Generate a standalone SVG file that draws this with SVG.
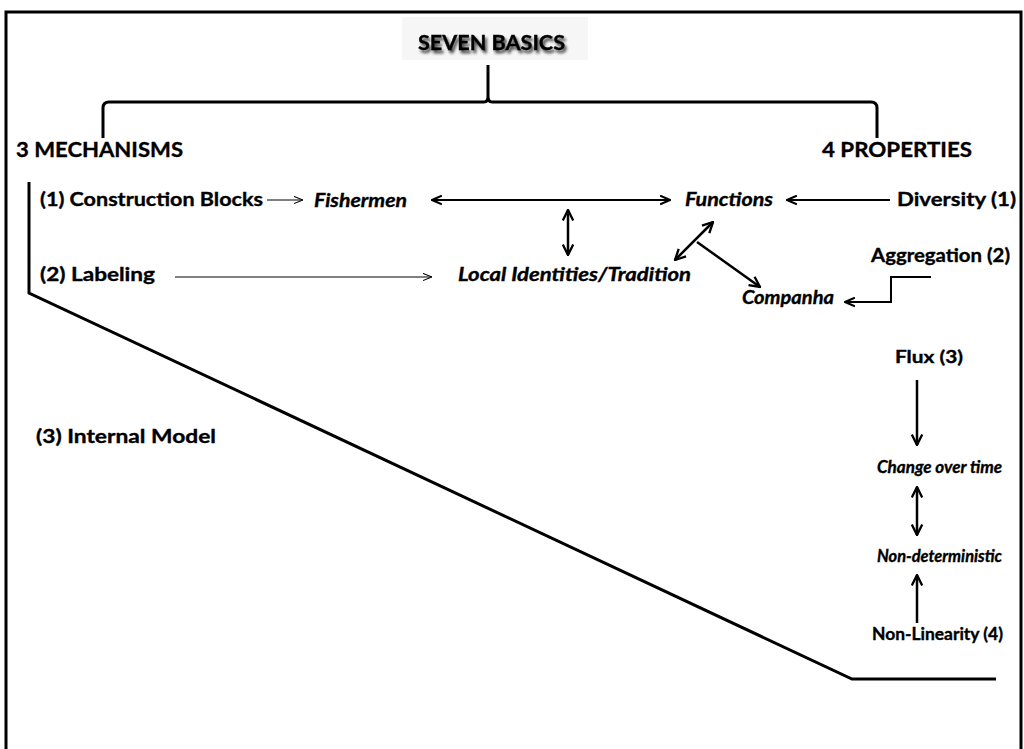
<svg xmlns="http://www.w3.org/2000/svg" width="1024" height="749" viewBox="0 0 1024 749">
<defs>
<style>
text{font-family:Lato,"Open Sans","Liberation Sans",sans-serif;font-weight:bold;fill:#000;stroke:#000;stroke-width:0.35}
.h{font-size:21px}
.t{font-size:19px}
.r{font-size:16.5px}
.i{font-style:italic}
.thin{stroke:#000;stroke-width:1;fill:none}
.med{stroke:#000;stroke-width:2;fill:none}
.bold{stroke:#000;stroke-width:2.5;fill:none}
.thick{stroke:#000;stroke-width:3;fill:none}
</style>
<marker id="open" viewBox="0 0 10 10" refX="10" refY="5" markerWidth="9" markerHeight="9" markerUnits="userSpaceOnUse" orient="auto-start-reverse"><path d="M0,1 L10,5 L0,9" fill="none" stroke="#000" stroke-width="1.2"/></marker>
<marker id="open2" viewBox="0 0 10 10" refX="9.5" refY="5" markerWidth="11" markerHeight="11" markerUnits="userSpaceOnUse" orient="auto-start-reverse"><path d="M0.5,1 L9.5,5 L0.5,9" fill="none" stroke="#000" stroke-width="1.8"/></marker>
<marker id="arr" viewBox="0 0 10 10" refX="9" refY="5" markerWidth="13" markerHeight="13" markerUnits="userSpaceOnUse" orient="auto-start-reverse"><path d="M1,1 L9,5 L1,9" fill="none" stroke="#000" stroke-width="1.8"/></marker>
<filter id="sh" x="-10%" y="-40%" width="130%" height="190%">
<feGaussianBlur in="SourceAlpha" stdDeviation="1.8" result="b"/>
<feOffset in="b" dx="2" dy="3" result="o"/>
<feComponentTransfer in="o" result="s"><feFuncA type="linear" slope="0.75"/></feComponentTransfer>
<feMerge><feMergeNode in="s"/><feMergeNode in="SourceGraphic"/></feMerge>
</filter>
</defs>
<rect width="1024" height="749" fill="#fff"/>
<path d="M6,760 L6,12 L1021,12 L1021,760" class="thick"/>
<g id="title">
<rect x="402" y="17" width="186" height="43" fill="#f6f6f6"/>
<text x="418" y="50" class="h" filter="url(#sh)" textLength="147" lengthAdjust="spacingAndGlyphs">SEVEN BASICS</text>
</g>
<g id="brace">
<path d="M488,65 L488,96 Q488,102 484,102 L109,102 Q103,102 103,108 L103,138 M488,96 Q488,102 492,102 L871,102 Q877,102 877,108 L877,138" class="thick"/>
</g>
<g id="mechanisms"><text x="16" y="157" class="h" textLength="167" lengthAdjust="spacingAndGlyphs">3 MECHANISMS</text></g>
<g id="properties"><text x="822" y="157" class="h" textLength="150" lengthAdjust="spacingAndGlyphs">4 PROPERTIES</text></g>
<g id="n-construction"><text x="40" y="206" class="t" textLength="223" lengthAdjust="spacingAndGlyphs">(1) Construction  Blocks</text></g>
<g id="n-fishermen"><text x="314" y="207" class="t i" textLength="93" lengthAdjust="spacingAndGlyphs">Fishermen</text></g>
<g id="n-functions"><text x="685" y="206" class="t i" textLength="88" lengthAdjust="spacingAndGlyphs">Functions</text></g>
<g id="n-diversity"><text x="897" y="206" class="t" textLength="119" lengthAdjust="spacingAndGlyphs">Diversity (1)</text></g>
<g id="n-labeling"><text x="40" y="281" class="t" textLength="115" lengthAdjust="spacingAndGlyphs">(2) Labeling</text></g>
<g id="n-local"><text x="458" y="281" class="t i" textLength="233" lengthAdjust="spacingAndGlyphs">Local Identities/Tradition</text></g>
<g id="n-aggregation"><text x="871" y="262" class="t" textLength="139" lengthAdjust="spacingAndGlyphs">Aggregation (2)</text></g>
<g id="n-companha"><text x="742" y="304" class="t i" textLength="92" lengthAdjust="spacingAndGlyphs">Companha</text></g>
<g id="n-internal"><text x="36" y="443" class="t" textLength="180" lengthAdjust="spacingAndGlyphs">(3) Internal Model</text></g>
<g id="n-flux"><text x="895" y="363" class="r" textLength="68" lengthAdjust="spacingAndGlyphs">Flux (3)</text></g>
<g id="n-change"><text x="877" y="473" class="r i" textLength="125" lengthAdjust="spacingAndGlyphs">Change over time</text></g>
<g id="n-nondet"><text x="877" y="562" class="r i" textLength="125" lengthAdjust="spacingAndGlyphs">Non-deterministic</text></g>
<g id="n-nonlin"><text x="872" y="640" class="r" textLength="131" lengthAdjust="spacingAndGlyphs">Non-Linearity (4)</text></g>
<g id="outline">
<path d="M29,182 L29,293 L852,679 L996,679" class="thick"/>
</g>
<g id="connectors">
<line x1="267" y1="200" x2="303" y2="200" class="thin" marker-end="url(#open)"/>
<line x1="432" y1="200" x2="670" y2="200" class="med" marker-start="url(#open2)" marker-end="url(#open2)"/>
<line x1="890" y1="200" x2="787" y2="200" class="med" marker-end="url(#open2)"/>
<line x1="568" y1="210" x2="568" y2="255" class="bold" marker-start="url(#arr)" marker-end="url(#arr)"/>
<line x1="175" y1="277" x2="432" y2="277" class="thin" marker-end="url(#open)"/>
<line x1="713" y1="222" x2="675" y2="260" class="bold" marker-start="url(#arr)" marker-end="url(#arr)"/>
<line x1="697" y1="242" x2="760" y2="287" class="bold" marker-end="url(#arr)"/>
<path d="M931,277 L891,277 L891,302 L845,302" class="med" marker-end="url(#open2)"/>
<line x1="917" y1="380" x2="917" y2="445" class="bold" marker-end="url(#arr)"/>
<line x1="917" y1="487" x2="917" y2="535" class="bold" marker-start="url(#arr)" marker-end="url(#arr)"/>
<line x1="917" y1="623" x2="917" y2="575" class="bold" marker-end="url(#arr)"/>
</g>
</svg>
